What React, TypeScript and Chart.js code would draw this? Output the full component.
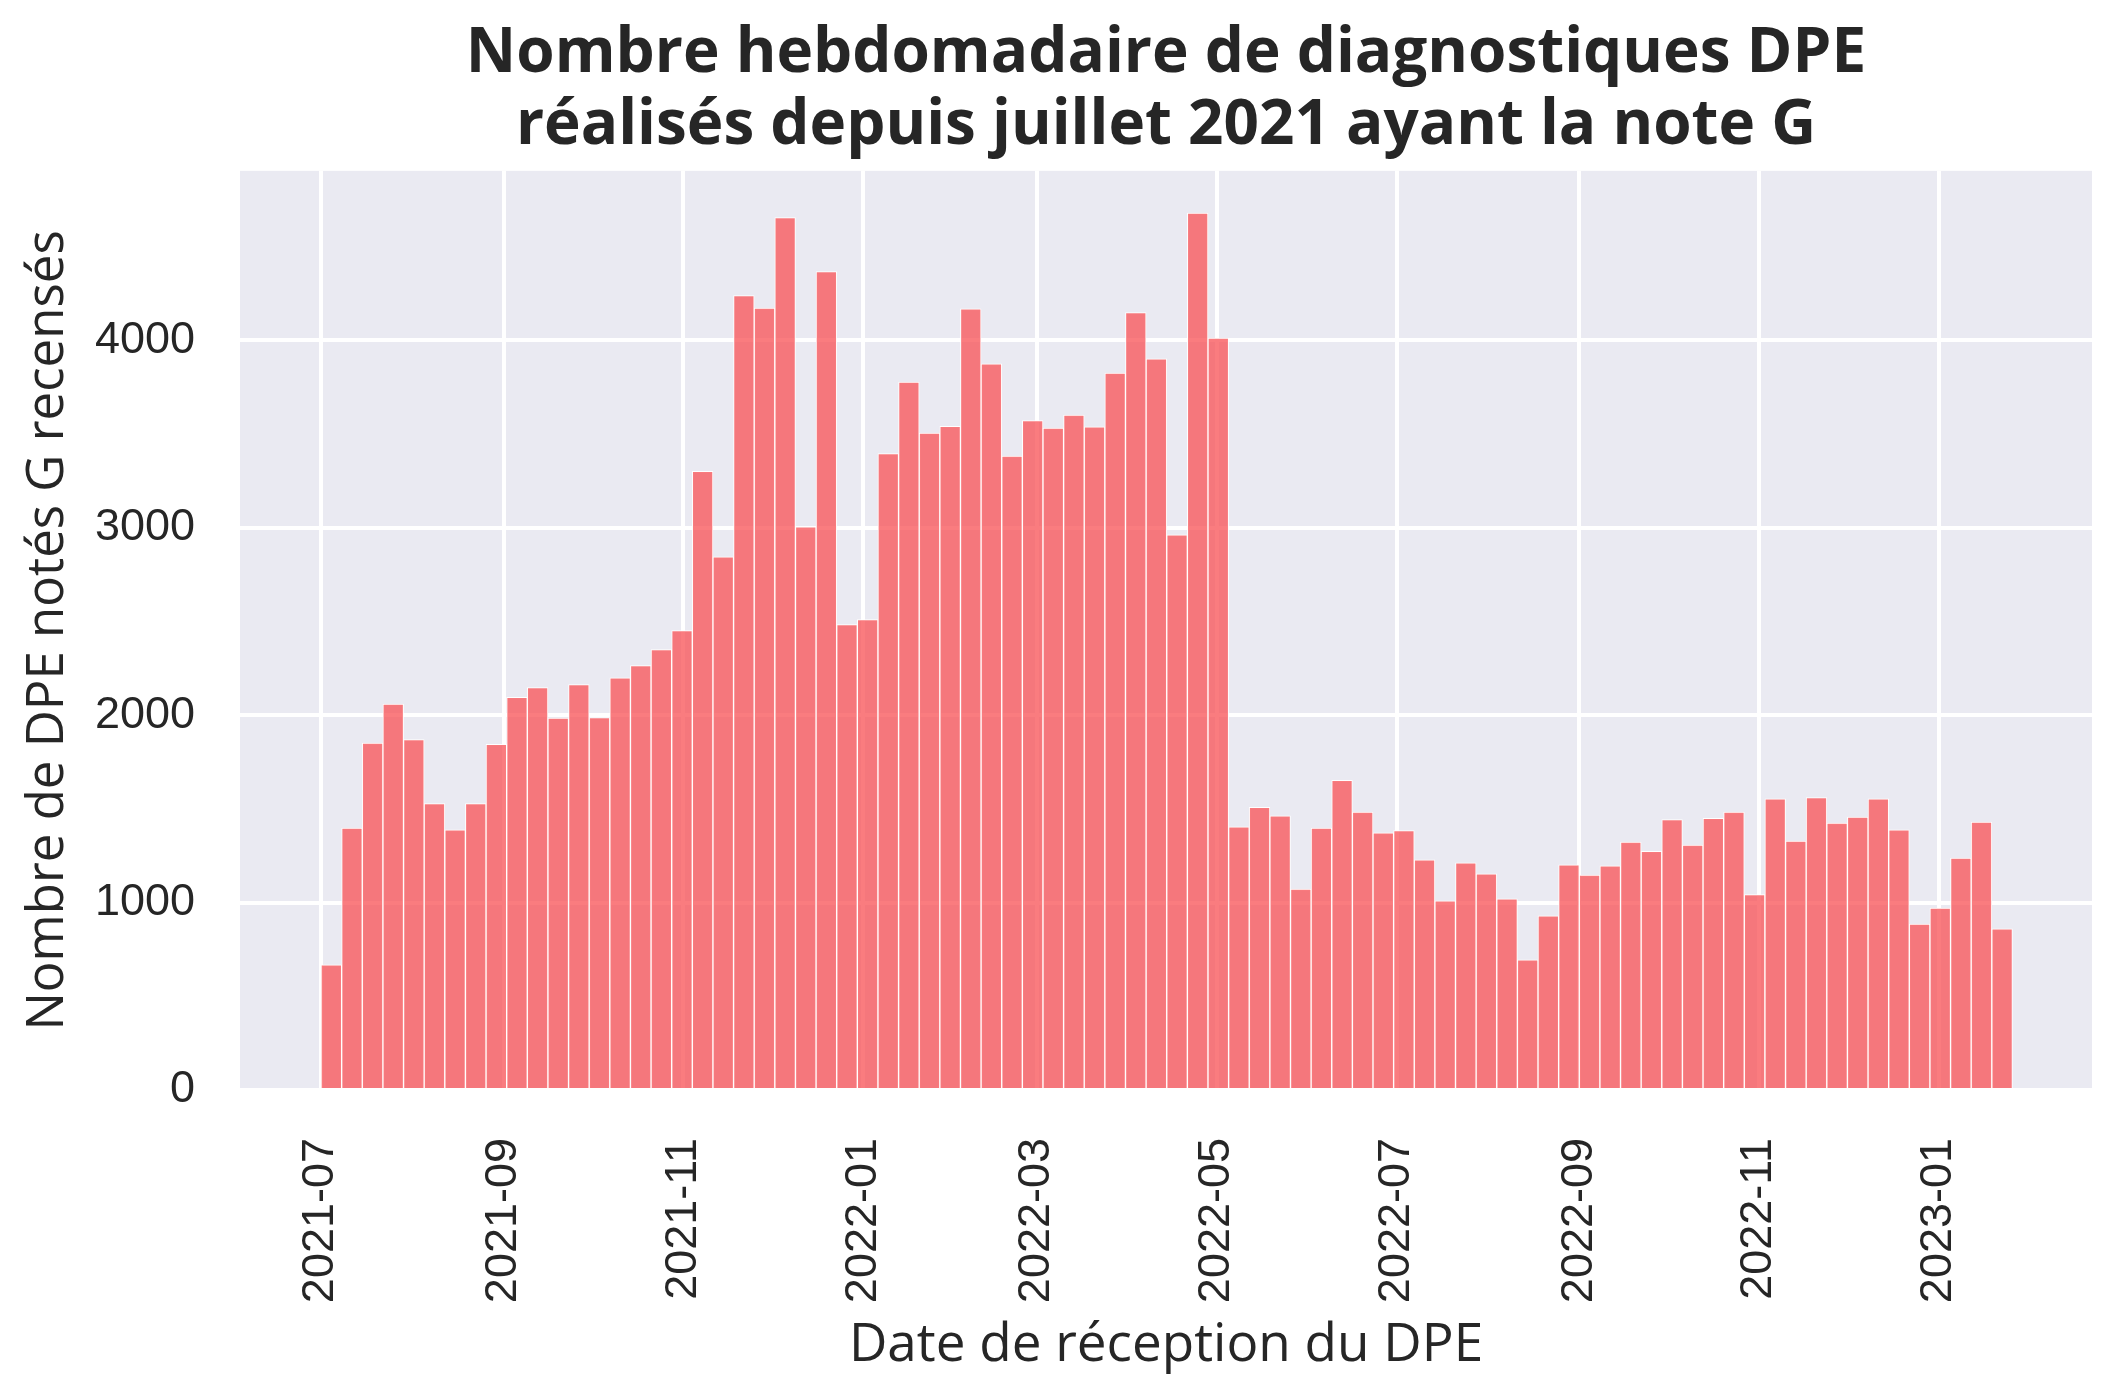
import React, { useEffect, useRef } from 'react';
import { Chart, registerables } from 'chart.js';

Chart.register(...registerables);

// Histogram bins: weekly, starting on this date
const BIN_START = '2021-07-01';
const BIN_DAYS = 7;

// Weekly counts of DPE rated G
const WEEKLY_COUNTS = [
  668, 1398, 1851, 2060, 1870, 1528, 1388, 1528, 1845, 2096,
  2148, 1985, 2164, 1988, 2200, 2265, 2350, 2451, 3301, 2845,
  4240, 4172, 4655, 3005, 4368, 2484, 2510, 3396, 3778, 3506,
  3542, 4168, 3875, 3383, 3572, 3532, 3601, 3539, 3826, 4149,
  3902, 2962, 4680, 4012, 1404, 1509, 1463, 1072, 1398, 1652,
  1483, 1372, 1385, 1228, 1010, 1212, 1154, 1020, 694, 929,
  1202, 1147, 1196, 1323, 1274, 1443, 1307, 1450, 1483, 1043,
  1554, 1329, 1561, 1424, 1457, 1554, 1388, 886, 971, 1238,
  1430, 860,
];

const X_TICK_LABELS = [
  '2021-07', '2021-09', '2021-11', '2022-01', '2022-03',
  '2022-05', '2022-07', '2022-09', '2022-11', '2023-01',
];
const Y_TICKS = [0, 1000, 2000, 3000, 4000];

const TITLE_LINES = [
  'Nombre hebdomadaire de diagnostiques DPE',
  'réalisés depuis juillet 2021 ayant la note G',
];
const X_TITLE = 'Date de réception du DPE';
const Y_TITLE = 'Nombre de DPE notés G recensés';

const DAY_MS = 86400000;
const startMs = Date.parse(BIN_START + 'T00:00:00Z');
const dayOf = (label: string) =>
  (Date.parse(label + '-01T00:00:00Z') - startMs) / DAY_MS;

const TEXT = '#262626';

const bgPlugin = {
  id: 'plotBg',
  afterLayout(chart: any) {
    const t = chart.titleBlock;
    if (t) {
      t.left = chart.chartArea.left;
      t.right = chart.chartArea.right;
      t.width = t.right - t.left;
    }
  },
  beforeDraw(chart: any) {
    const { ctx, chartArea } = chart;
    ctx.save();
    ctx.fillStyle = '#ffffff';
    ctx.fillRect(0, 0, chart.width, chart.height);
    ctx.fillStyle = '#EAEAF2';
    ctx.fillRect(chartArea.left, chartArea.top, chartArea.width, chartArea.height);
    ctx.restore();
  },
};

export default function App() {
  const ref = useRef<HTMLCanvasElement | null>(null);

  useEffect(() => {
    if (!ref.current) return;
    const points = WEEKLY_COUNTS.map((v, i) => ({
      x: i * BIN_DAYS + BIN_DAYS / 2,
      y: v,
    }));
    const chart = new Chart(ref.current, {
      type: 'bar',
      data: {
        datasets: [
          {
            data: points as any,
            backgroundColor: 'rgba(248, 80, 84, 0.75)',
            borderColor: '#ffffff',
            borderWidth: 1,
            barPercentage: 1,
            categoryPercentage: 1,
          },
        ],
      },
      options: {
        responsive: false,
        animation: false,
        devicePixelRatio: 1,
        layout: { padding: { left: 0, right: 34, top: 0, bottom: 0 } },
        plugins: {
          legend: { display: false },
          tooltip: { enabled: false },
          title: {
            display: true,
            text: TITLE_LINES,
            color: TEXT,
            font: { family: 'Open Sans', size: 62, weight: 'bold', lineHeight: 1.16 },
            padding: { top: 18, bottom: 9 },
          },
        },
        scales: {
          x: {
            type: 'linear',
            min: -27.5,
            max: 601,
            offset: false,
            grid: { color: '#ffffff', lineWidth: 4, drawTicks: false, offset: false },
            border: { display: false },
            afterBuildTicks: (scale: any) => {
              scale.ticks = X_TICK_LABELS.map((l) => ({ value: dayOf(l) }));
            },
            afterFit: (scale: any) => {
              scale.height = 306;
            },
            ticks: {
              autoSkip: false,
              minRotation: 90,
              maxRotation: 90,
              padding: 48,
              color: TEXT,
              font: { family: 'Liberation Sans', size: 45 },
              callback: (_v: any, i: number) => X_TICK_LABELS[i],
            },
            title: {
              display: true,
              text: X_TITLE,
              color: TEXT,
              font: { family: 'Open Sans', size: 53, lineHeight: 1.2 },
              padding: { top: 0, bottom: 18 },
            },
          },
          y: {
            type: 'linear',
            min: 0,
            max: 4905,
            grid: { color: '#ffffff', lineWidth: 4, drawTicks: false },
            border: { display: false },
            afterBuildTicks: (scale: any) => {
              scale.ticks = Y_TICKS.map((v) => ({ value: v }));
            },
            afterFit: (scale: any) => {
              scale.width = 240;
            },
            ticks: {
              padding: 45,
              color: TEXT,
              font: { family: 'Liberation Sans', size: 45 },
              callback: (v: any) => String(v),
            },
            title: {
              display: true,
              text: Y_TITLE,
              color: TEXT,
              font: { family: 'Open Sans', size: 51, lineHeight: 1.2 },
              padding: { top: 18, bottom: 0 },
            },
          },
        },
      } as any,
      plugins: [bgPlugin],
    });
    return () => chart.destroy();
  }, []);

  return (
    <div style={{ position: 'fixed', left: 0, top: 0, width: 2126, height: 1396, background: '#fff' }}>
      <canvas ref={ref} width={2126} height={1396} style={{ width: 2126, height: 1396, display: 'block' }} />
    </div>
  );
}
